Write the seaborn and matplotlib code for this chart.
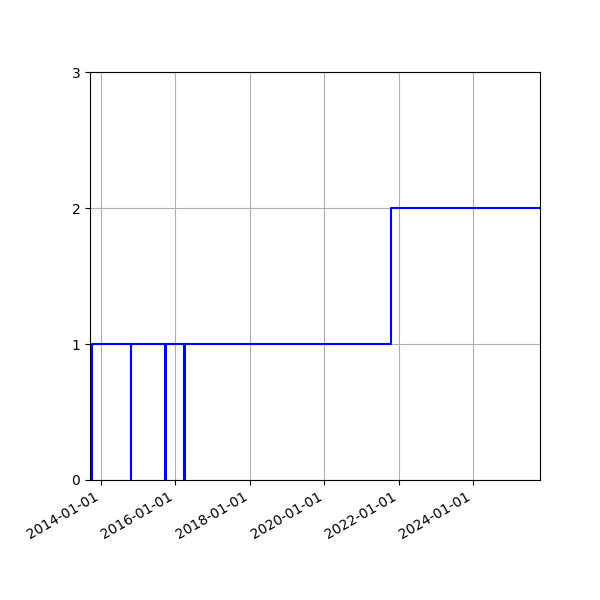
import matplotlib
matplotlib.use("Agg")
import matplotlib.pyplot as plt
import matplotlib.dates as mdates
import seaborn as sns
import pandas as pd

dates = ["2013-09-14", "2013-10-01", "2014-10-20", "2014-10-22", "2015-09-20",
         "2015-09-27", "2016-03-24", "2016-04-03", "2021-10-16", "2025-10-17"]
values = [0, 1, 0, 1, 0, 1, 0, 1, 2, 2]
y_ticks = [0, 1, 2, 3]

df = pd.DataFrame({"date": pd.to_datetime(dates), "value": values})

fig, ax = plt.subplots(figsize=(6, 6), dpi=100)
sns.lineplot(data=df, x="date", y="value", ax=ax, color="blue",
             drawstyle="steps-post", linewidth=1.5)
ax.set_xlim(df["date"].iloc[0], df["date"].iloc[-1])
ax.set_ylim(0, 3)
ax.set_yticks(y_ticks)
ax.xaxis.set_major_locator(mdates.YearLocator(2))
ax.xaxis.set_major_formatter(mdates.DateFormatter("%Y-%m-%d"))
ax.grid(True)
ax.set_xlabel("")
ax.set_ylabel("")
fig.autofmt_xdate()
fig.subplots_adjust(left=0.15, right=0.9, top=0.88, bottom=0.2)
fig.savefig("out.png", dpi=100)
